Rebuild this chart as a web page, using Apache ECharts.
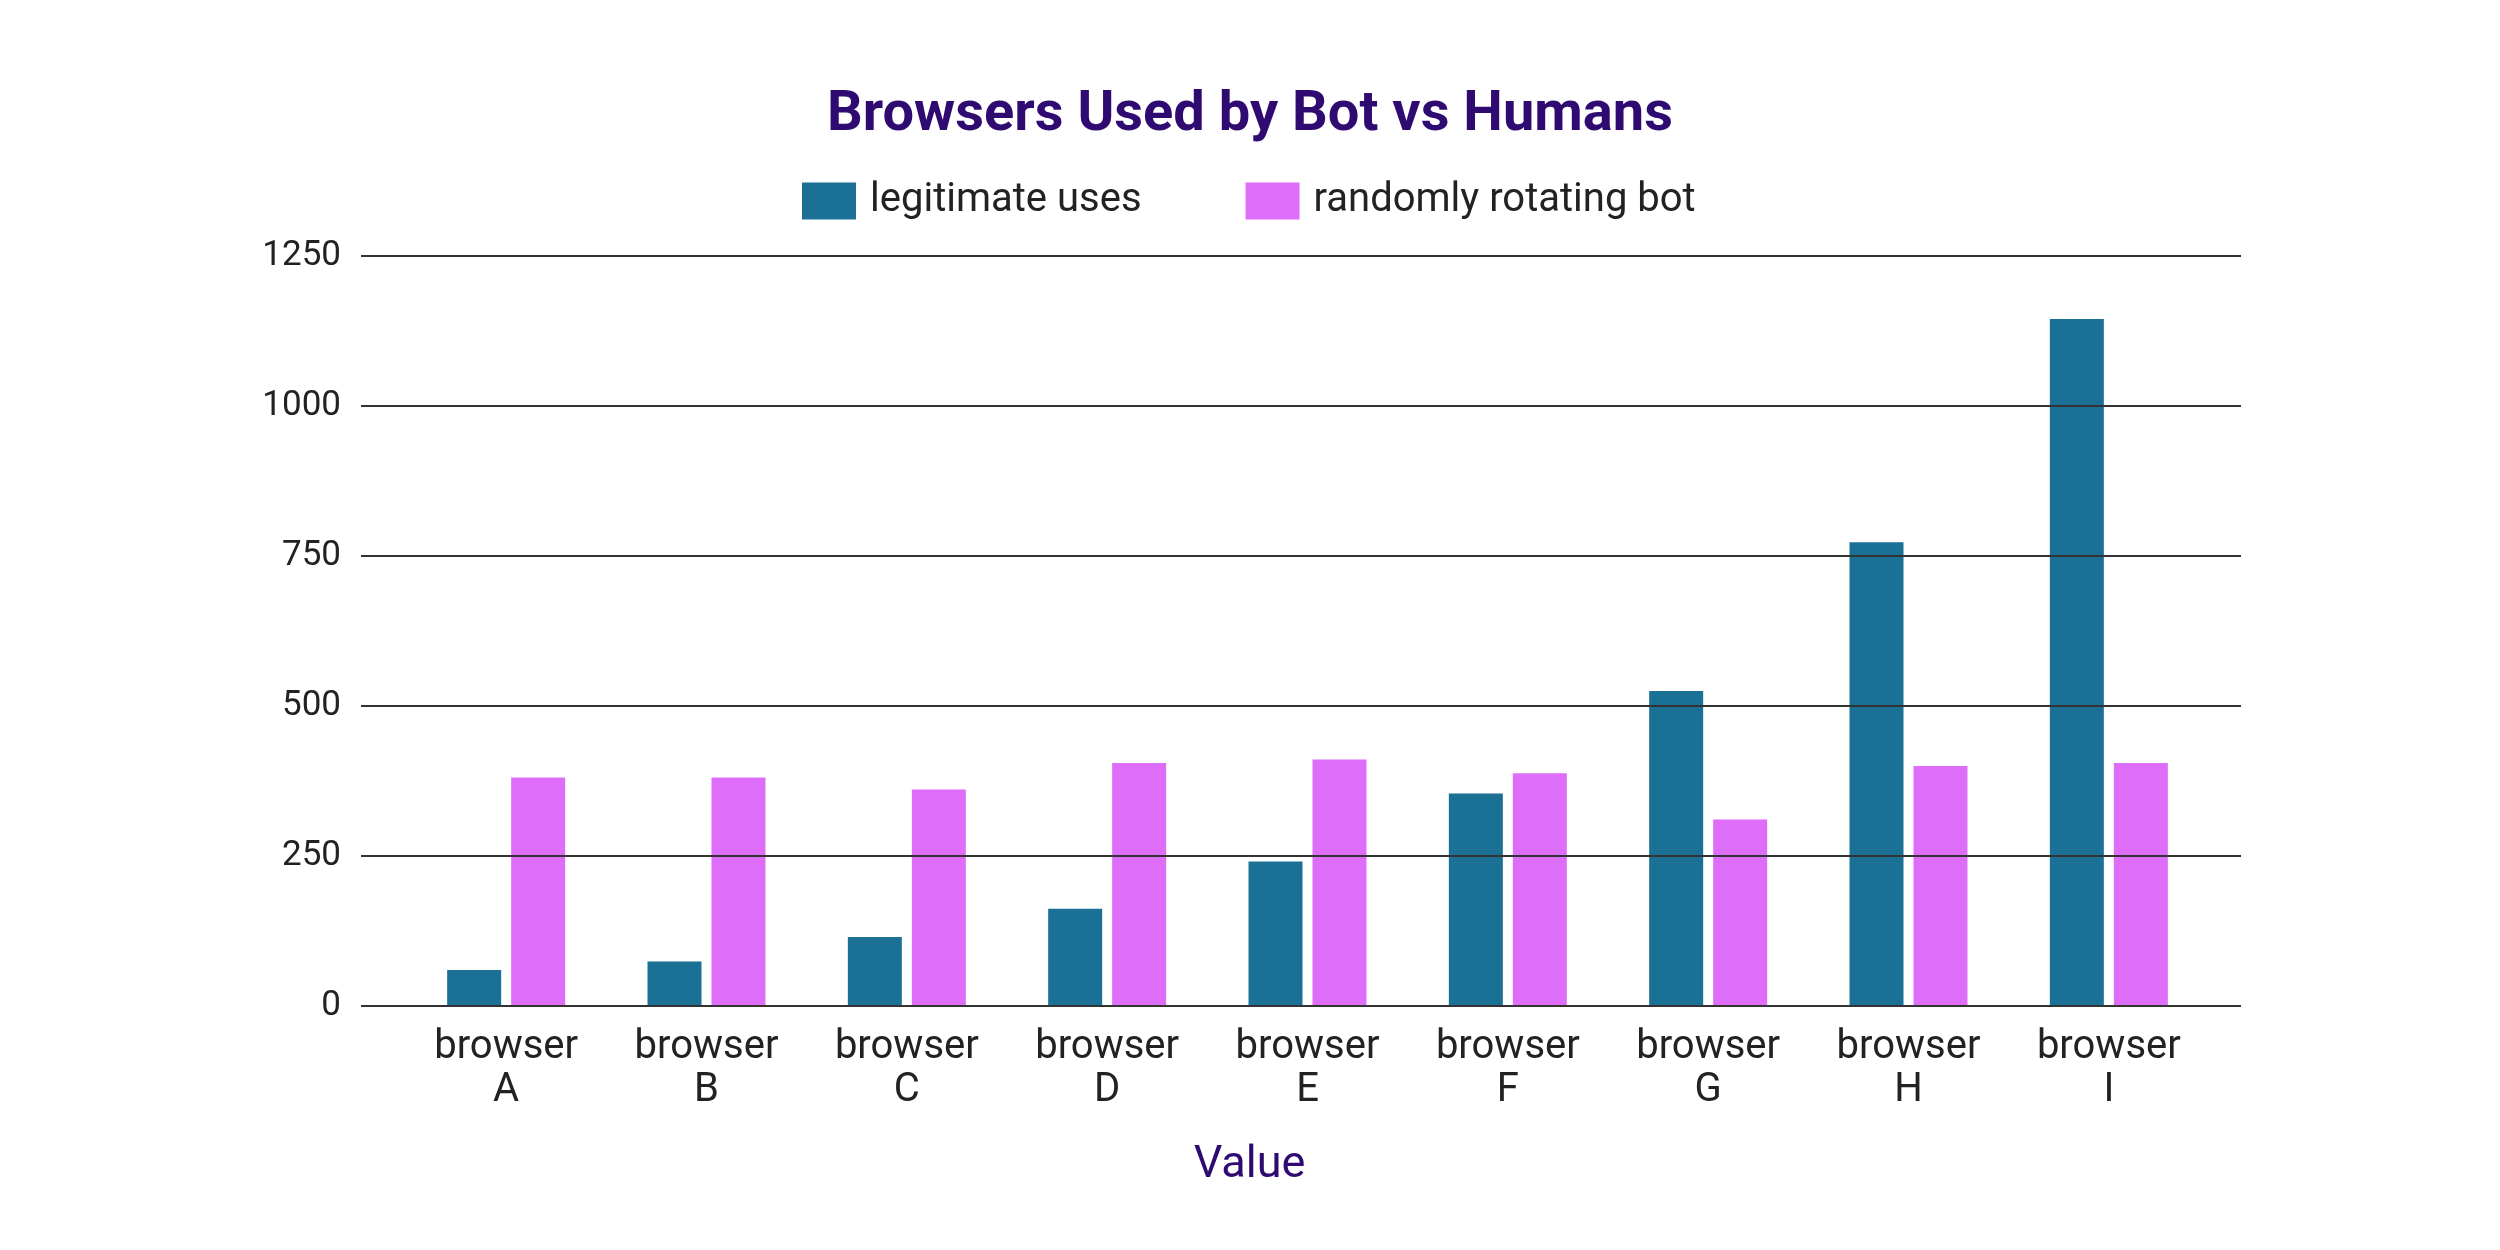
<!DOCTYPE html>
<html><head><meta charset="utf-8">
<script src="https://cdn.jsdelivr.net/npm/echarts@6/dist/echarts.min.js"></script>
<style>html,body{margin:0;padding:0;background:#fff}#c{width:2500px;height:1250px}</style>
</head><body><div id="c"></div>
<script>
const categories = ['browser\nA', 'browser\nB', 'browser\nC', 'browser\nD', 'browser\nE', 'browser\nF', 'browser\nG', 'browser\nH', 'browser\nI'];
const legitimateUses = [60, 74, 115, 162, 241, 354, 525, 773, 1145];
const randomlyRotatingBot = [381, 381, 361, 405, 411, 388, 311, 400, 405];
const seriesNames = ['legitimate uses', 'randomly rotating bot'];
const yMin = 0, yMax = 1250, yStep = 250;
const titleText = 'Browsers Used by Bot vs Humans';
const xAxisName = 'Value';

const chart = echarts.init(document.getElementById('c'));
chart.setOption({
  backgroundColor: '#ffffff',
  animation: false,
  textStyle: { fontFamily: 'Roboto' },
  title: {
    text: titleText, left: 'center', top: 83,
    textStyle: { fontFamily: 'Roboto', fontWeight: 'bold', fontSize: 56, color: '#2F0A70' }
  },
  legend: {
    data: seriesNames, left: 797, top: 176, icon: 'rect',
    itemWidth: 54, itemHeight: 37, itemGap: 104,
    textStyle: { fontSize: 40, color: '#222222', padding: [0, 0, 0, 9] }
  },
  grid: [
    { left: 361, right: 259, top: 256, bottom: 244 },
    { left: 406, right: 291, top: 256, bottom: 244 }
  ],
  xAxis: [
    { gridIndex: 0, type: 'value', show: false, min: 0, max: 1 },
    {
      gridIndex: 1, type: 'category', data: categories,
      axisLine: { show: false }, axisTick: { show: false },
      axisLabel: { fontSize: 40, color: '#222222', lineHeight: 43, margin: 20, interval: 0 },
      name: xAxisName, nameLocation: 'middle', nameGap: 137,
      nameTextStyle: { fontSize: 45, color: '#2F0A70', padding: [0, 116, 0, 0] }
    }
  ],
  yAxis: [
    {
      gridIndex: 0, type: 'value', min: yMin, max: yMax, interval: yStep, z: 10,
      axisLine: { show: false }, axisTick: { show: false },
      axisLabel: { fontSize: 35, color: '#222222', margin: 20, formatter: function (v) { return String(v); } },
      splitLine: { show: true, lineStyle: { color: '#333333', width: 2 } }
    },
    { gridIndex: 1, type: 'value', min: yMin, max: yMax, interval: yStep, show: false }
  ],
  series: [
    {
      name: seriesNames[0], type: 'bar', xAxisIndex: 1, yAxisIndex: 1,
      data: legitimateUses, barWidth: 54, barGap: '18.5%',
      itemStyle: { color: '#1B7096' }
    },
    {
      name: seriesNames[1], type: 'bar', xAxisIndex: 1, yAxisIndex: 1,
      data: randomlyRotatingBot, barWidth: 54, barGap: '18.5%',
      itemStyle: { color: '#DE6DF9' }
    }
  ]
});
</script>
</body></html>
